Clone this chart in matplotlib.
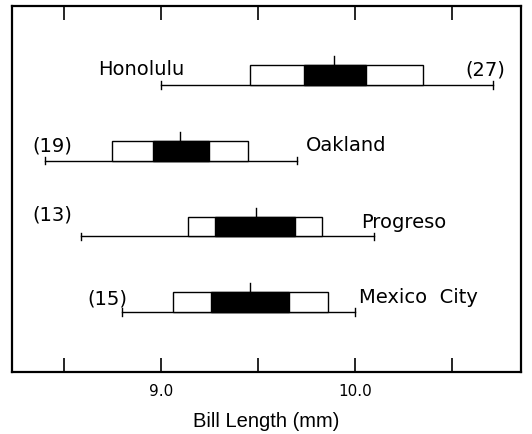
import matplotlib
matplotlib.use("Agg")
import matplotlib.pyplot as plt
from matplotlib.patches import Rectangle

# populations, top to bottom
sites = ["Honolulu", "Oakland", "Progreso", "Mexico  City"]
sample_n = [27, 19, 13, 15]
# bill length (mm): range, mean +/- SD (white box), mean +/- 2SE (black box)
range_lo = [9.00, 8.40, 8.59, 8.80]
range_hi = [10.71, 9.70, 10.10, 10.00]
sd_lo = [9.46, 8.75, 9.14, 9.06]
sd_hi = [10.35, 9.45, 9.83, 9.86]
se_lo = [9.74, 8.96, 9.28, 9.26]
se_hi = [10.06, 9.25, 9.69, 9.66]
means = [9.89, 9.10, 9.49, 9.46]
ticks = [8.5, 9.0, 9.5, 10.0, 10.5]
tick_labels = ["", "9.0", "", "10.0", ""]

# label placement: (x, y offset, ha) for site name and for sample size
name_pos = [(9.12, 0.21, "right"), (9.75, 0.21, "left"),
            (10.03, 0.20, "left"), (10.02, 0.20, "left")]
n_pos = [(10.57, 0.21, "left"), (8.335, 0.21, "left"),
         (8.335, 0.29, "left"), (8.62, 0.18, "left")]

fig = plt.figure(figsize=(5.32, 4.35), dpi=100)
ax = fig.add_axes([0.0226, 0.1425, 0.9564, 0.8415])

box_h = 0.26
cap = 0.05
for i, site in enumerate(sites):
    y = len(sites) - 1 - i
    ax.plot([range_lo[i], range_hi[i]], [y, y], color="black", lw=1.0)
    for xe in (range_lo[i], range_hi[i]):
        ax.plot([xe, xe], [y - cap, y + cap], color="black", lw=1.0)
    ax.add_patch(Rectangle((sd_lo[i], y), sd_hi[i] - sd_lo[i], box_h,
                           facecolor="white", edgecolor="black", lw=1.0, zorder=3))
    ax.add_patch(Rectangle((se_lo[i], y), se_hi[i] - se_lo[i], box_h,
                           facecolor="black", edgecolor="black", lw=1.0, zorder=4))
    ax.plot([means[i], means[i]], [y + box_h, y + box_h + 0.12],
            color="black", lw=1.0, zorder=5)

    nx, ny, nha = name_pos[i]
    ax.text(nx, y + ny, site, ha=nha, va="center", fontsize=14,
            family="DejaVu Sans")
    sx, sy, sha = n_pos[i]
    ax.text(sx, y + sy, f"({sample_n[i]})", ha=sha, va="center", fontsize=14,
            family="DejaVu Sans")

ax.set_xlim(8.232, 10.856)
ax.set_ylim(-0.79, 4.04)
ax.set_yticks([])
ax.set_xticks(ticks)
ax.set_xticklabels(tick_labels, fontsize=11, family="DejaVu Sans")
ax.tick_params(axis="x", direction="in", length=10, width=1.2, top=True,
               pad=8)
for sp in ax.spines.values():
    sp.set_linewidth(1.6)

fig.text(0.5, 0.03, "Bill Length (mm)", ha="center", va="center",
         fontsize=14.5, family="Liberation Sans")

fig.savefig("out.png", dpi=100)
